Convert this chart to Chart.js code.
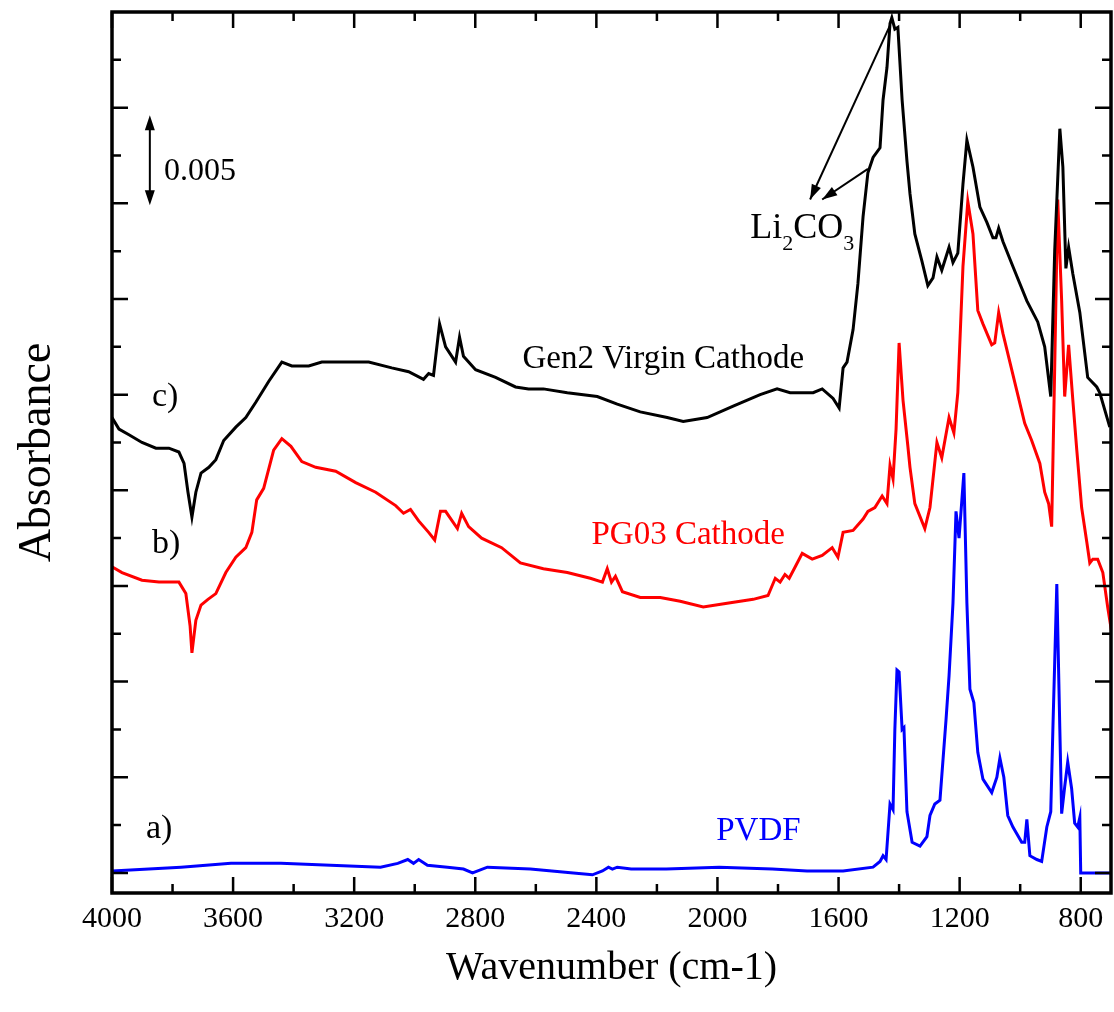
<!DOCTYPE html>
<html>
<head>
<meta charset="utf-8">
<title>FTIR spectra</title>
<script src="https://cdn.jsdelivr.net/npm/chart.js@4.4.1/dist/chart.umd.min.js"></script>
<style>
  body { margin: 0; background: #fff; }
  canvas { display: block; }
</style>
</head>
<body>
<canvas id="chart" width="1114" height="1012"></canvas>
<script>
// spectra (wavenumber in cm-1, absorbance with the stacking offset included)
const gen2Wn = [4000,3977,3944,3901,3855,3812,3779,3762,3749,3736,3723,3706,3680,3657,3631,3591,3558,3525,3482,3439,3406,3350,3307,3241,3152,3076,3020,2971,2954,2938,2918,2898,2865,2852,2839,2799,2733,2667,2624,2575,2496,2397,2331,2255,2166,2113,2034,1948,1859,1803,1760,1727,1684,1654,1618,1598,1585,1572,1552,1536,1519,1503,1486,1463,1453,1440,1430,1424,1414,1404,1390,1374,1364,1348,1325,1305,1288,1275,1259,1235,1222,1206,1189,1176,1156,1133,1110,1090,1080,1071,1057,1024,978,942,919,899,886,869,859,849,840,826,803,777,747,737,704];
const gen2Abs = [0.0238,0.0232,0.0229,0.0225,0.0222,0.0222,0.0220,0.0214,0.0199,0.0186,0.0199,0.0209,0.0212,0.0216,0.0226,0.0233,0.0238,0.0246,0.0257,0.0267,0.0265,0.0265,0.0267,0.0267,0.0267,0.0264,0.0262,0.0258,0.0261,0.0260,0.0287,0.0275,0.0267,0.0280,0.0270,0.0263,0.0259,0.0254,0.0253,0.0253,0.0251,0.0249,0.0245,0.0241,0.0238,0.0236,0.0238,0.0244,0.0250,0.0253,0.0251,0.0251,0.0251,0.0253,0.0248,0.0243,0.0264,0.0267,0.0284,0.0308,0.0343,0.0366,0.0374,0.0379,0.0404,0.0421,0.0444,0.0447,0.0441,0.0442,0.0404,0.0372,0.0355,0.0334,0.0320,0.0307,0.0311,0.0322,0.0315,0.0327,0.0319,0.0324,0.0360,0.0383,0.0369,0.0348,0.0340,0.0332,0.0332,0.0337,0.0330,0.0317,0.0299,0.0288,0.0275,0.0249,0.0325,0.0389,0.0369,0.0316,0.0327,0.0313,0.0293,0.0259,0.0254,0.0251,0.0233];

const pg03Wn = [4000,3967,3901,3845,3779,3756,3742,3736,3723,3706,3683,3657,3624,3591,3558,3538,3522,3499,3466,3439,3409,3373,3327,3261,3195,3129,3063,3037,3014,2987,2954,2934,2915,2898,2859,2845,2822,2779,2713,2651,2575,2496,2420,2380,2364,2350,2337,2314,2255,2189,2123,2047,1968,1882,1833,1809,1793,1777,1763,1743,1720,1687,1654,1621,1602,1585,1552,1519,1503,1480,1456,1440,1430,1420,1410,1400,1387,1371,1364,1348,1315,1298,1275,1259,1235,1219,1206,1189,1173,1156,1140,1123,1094,1084,1071,1057,1034,1011,985,962,935,919,906,896,886,876,863,853,840,826,813,797,780,770,760,744,727,711,698];
const pg03Abs = [0.0160,0.0157,0.0153,0.0152,0.0152,0.0146,0.0129,0.0115,0.0132,0.0140,0.0143,0.0146,0.0157,0.0165,0.0170,0.0178,0.0195,0.0201,0.0221,0.0227,0.0223,0.0215,0.0212,0.0210,0.0204,0.0199,0.0192,0.0188,0.0190,0.0184,0.0178,0.0174,0.0189,0.0189,0.0180,0.0188,0.0181,0.0175,0.0170,0.0162,0.0159,0.0157,0.0154,0.0152,0.0159,0.0152,0.0155,0.0147,0.0144,0.0144,0.0142,0.0139,0.0141,0.0143,0.0145,0.0154,0.0152,0.0156,0.0154,0.0160,0.0167,0.0164,0.0166,0.0170,0.0165,0.0178,0.0179,0.0185,0.0189,0.0191,0.0197,0.0193,0.0213,0.0206,0.0232,0.0277,0.0247,0.0223,0.0212,0.0193,0.0180,0.0191,0.0225,0.0217,0.0238,0.0230,0.0251,0.0317,0.0351,0.0334,0.0294,0.0287,0.0276,0.0277,0.0293,0.0282,0.0267,0.0252,0.0235,0.0226,0.0214,0.0199,0.0193,0.0181,0.0264,0.0352,0.0299,0.0249,0.0276,0.0247,0.0221,0.0191,0.0173,0.0162,0.0164,0.0164,0.0157,0.0139,0.0126];

const pvdfWn = [4000,3772,3607,3442,3278,3113,3056,3023,3004,2987,2958,2892,2839,2809,2760,2618,2476,2413,2380,2360,2347,2331,2285,2169,1994,1819,1704,1585,1486,1463,1453,1443,1430,1420,1414,1407,1400,1390,1384,1374,1357,1331,1308,1298,1282,1265,1245,1235,1222,1212,1202,1186,1176,1166,1153,1140,1123,1094,1077,1067,1054,1041,1024,995,985,978,968,945,929,912,899,892,886,879,869,863,853,843,830,820,810,803,800,700];
const pvdfAbs = [0.0001,0.0003,0.0005,0.0005,0.0004,0.0003,0.0005,0.0007,0.0005,0.0007,0.0004,0.0003,0.0002,0.0000,0.0003,0.0002,0.0000,-0.0001,0.0001,0.0003,0.0002,0.0003,0.0002,0.0002,0.0003,0.0002,0.0001,0.0001,0.0003,0.0006,0.0009,0.0007,0.0036,0.0033,0.0075,0.0106,0.0105,0.0075,0.0076,0.0032,0.0016,0.0014,0.0019,0.0030,0.0036,0.0038,0.0080,0.0103,0.0141,0.0189,0.0175,0.0209,0.0141,0.0096,0.0089,0.0063,0.0049,0.0042,0.0050,0.0060,0.0050,0.0030,0.0024,0.0016,0.0016,0.0028,0.0009,0.0007,0.0006,0.0024,0.0032,0.0075,0.0110,0.0151,0.0075,0.0031,0.0045,0.0058,0.0044,0.0026,0.0024,0.0029,0.0000,0.0000];

// ticks
const xMajorTicks = [4000,3600,3200,2800,2400,2000,1600,1200,800];
const xMinorTicks = [3800,3400,3000,2600,2200,1800,1400,1000];
const yMajorTicks = [0,0.005,0.010,0.015,0.020,0.025,0.030,0.035,0.040];
const yMinorTicks = [0.0025,0.0075,0.0125,0.0175,0.0225,0.0275,0.0325,0.0375,0.0425];

const serif = "'Liberation Serif', 'Times New Roman', serif";

function pts(wn, ab) {
  return wn.map((w, i) => ({x: w, y: ab[i]}));
}

// text and arrows placed in data coordinates
const notes = [
  {text: 'c)', x: 3868, y: 0.0244, size: 34, color: '#000'},
  {text: 'b)', x: 3868, y: 0.0167, size: 34, color: '#000'},
  {text: 'a)', x: 3888, y: 0.0018, size: 34, color: '#000'},
  {text: 'Gen2 Virgin Cathode', x: 2644, y: 0.0264, size: 33, color: '#000'},
  {text: 'PG03 Cathode', x: 2416, y: 0.0172, size: 33, color: '#ff0000'},
  {text: 'PVDF', x: 2004, y: 0.0017, size: 33, color: '#0000ff'},
  {text: '0.005', x: 3828, y: 0.0362, size: 32, color: '#000'}
];
const arrows = [
  {from: [1430, 0.0443], to: [1694, 0.0352]},
  {from: [1503, 0.0368], to: [1654, 0.0352]}
];

function arrowHead(ctx, x0, y0, x1, y1, len, half) {
  const a = Math.atan2(y1 - y0, x1 - x0);
  ctx.beginPath();
  ctx.moveTo(x1, y1);
  ctx.lineTo(x1 - len * Math.cos(a) + half * Math.sin(a), y1 - len * Math.sin(a) - half * Math.cos(a));
  ctx.lineTo(x1 - len * Math.cos(a) - half * Math.sin(a), y1 - len * Math.sin(a) + half * Math.cos(a));
  ctx.closePath();
  ctx.fill();
}

const framePlugin = {
  id: 'framePlugin',
  afterDatasetsDraw(chart) {
    const {ctx, chartArea: a, scales: {x, y}} = chart;
    ctx.save();
    ctx.strokeStyle = '#000';
    ctx.fillStyle = '#000';
    ctx.lineWidth = 2.5;
    ctx.beginPath();
    const tx = (v, len) => {
      const p = x.getPixelForValue(v);
      ctx.moveTo(p, a.bottom); ctx.lineTo(p, a.bottom - len);
      ctx.moveTo(p, a.top); ctx.lineTo(p, a.top + len);
    };
    const ty = (v, len) => {
      const p = y.getPixelForValue(v);
      ctx.moveTo(a.left, p); ctx.lineTo(a.left + len, p);
      ctx.moveTo(a.right, p); ctx.lineTo(a.right - len, p);
    };
    xMajorTicks.forEach(v => tx(v, 16));
    xMinorTicks.forEach(v => tx(v, 9));
    yMajorTicks.forEach(v => ty(v, 16));
    yMinorTicks.forEach(v => ty(v, 9));
    ctx.stroke();
    ctx.lineWidth = 3.5;
    ctx.strokeRect(a.left, a.top, a.right - a.left, a.bottom - a.top);

    // text notes
    ctx.textBaseline = 'alphabetic';
    ctx.textAlign = 'left';
    notes.forEach(n => {
      ctx.font = n.size + 'px ' + serif;
      ctx.fillStyle = n.color;
      ctx.fillText(n.text, x.getPixelForValue(n.x), y.getPixelForValue(n.y));
    });

    // Li2CO3 with subscripts
    ctx.fillStyle = '#000';
    let lx = x.getPixelForValue(1892);
    const ly = y.getPixelForValue(0.0332);
    const parts = [['Li', 36, 0], ['2', 22, 12], ['CO', 36, 0], ['3', 22, 12]];
    parts.forEach(([t, s, dy]) => {
      ctx.font = s + 'px ' + serif;
      ctx.fillText(t, lx, ly + dy);
      lx += ctx.measureText(t).width;
    });

    // arrows to the carbonate bands
    ctx.lineWidth = 2;
    arrows.forEach(ar => {
      const x0 = x.getPixelForValue(ar.from[0]), y0 = y.getPixelForValue(ar.from[1]);
      const x1 = x.getPixelForValue(ar.to[0]), y1 = y.getPixelForValue(ar.to[1]);
      ctx.beginPath();
      ctx.moveTo(x0, y0);
      ctx.lineTo(x1, y1);
      ctx.stroke();
      arrowHead(ctx, x0, y0, x1, y1, 15, 5);
    });

    // 0.005 scale bar
    const bx = x.getPixelForValue(3875);
    const bt = y.getPixelForValue(0.0396), bb = y.getPixelForValue(0.0349);
    ctx.beginPath();
    ctx.moveTo(bx, bt + 10);
    ctx.lineTo(bx, bb - 10);
    ctx.stroke();
    arrowHead(ctx, bx, bb, bx, bt, 15, 5);
    arrowHead(ctx, bx, bt, bx, bb, 15, 5);
    ctx.restore();
  }
};

new Chart(document.getElementById('chart'), {
  type: 'line',
  data: {
    datasets: [
      {label: 'Gen2 Virgin Cathode', data: pts(gen2Wn, gen2Abs), borderColor: '#000000'},
      {label: 'PG03 Cathode', data: pts(pg03Wn, pg03Abs), borderColor: '#ff0000'},
      {label: 'PVDF', data: pts(pvdfWn, pvdfAbs), borderColor: '#0000ff'}
    ]
  },
  options: {
    responsive: false,
    animation: false,
    devicePixelRatio: 1,
    layout: {padding: {top: 12, right: 3, left: 0, bottom: 0}},
    elements: {
      point: {radius: 0},
      line: {borderWidth: 3, tension: 0, fill: false}
    },
    plugins: {legend: {display: false}, tooltip: {enabled: false}},
    scales: {
      x: {
        type: 'linear',
        reverse: true,
        min: 700,
        max: 4000,
        grid: {display: false, drawTicks: false},
        border: {display: false},
        afterBuildTicks: axis => { axis.ticks = xMajorTicks.map(v => ({value: v})); },
        afterFit: axis => { axis.height = 119; },
        ticks: {
          color: '#000',
          padding: 8,
          maxRotation: 0,
          font: {family: serif, size: 30},
          callback: v => String(v)
        },
        title: {
          display: true,
          text: 'Wavenumber (cm-1)',
          color: '#000',
          font: {family: serif, size: 40},
          padding: {bottom: 20}
        }
      },
      y: {
        type: 'linear',
        min: -0.00105,
        max: 0.045,
        grid: {display: false, drawTicks: false},
        border: {display: false},
        ticks: {display: false},
        afterFit: axis => { axis.width = 112; },
        title: {
          display: true,
          text: 'Absorbance',
          color: '#000',
          font: {family: serif, size: 46},
          padding: {top: 10}
        }
      }
    }
  },
  plugins: [framePlugin]
});
</script>
</body>
</html>
